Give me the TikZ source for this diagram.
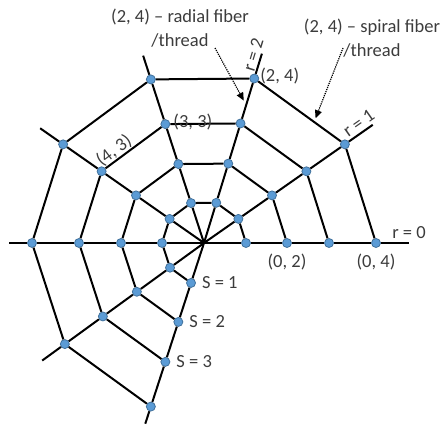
\documentclass[tikz,border=0pt]{standalone}
\usepackage{fontspec}
\setmainfont{Carlito}
\usetikzlibrary{arrows.meta,positioning,calc}

\definecolor{knotfill}{HTML}{5B9BD5}
\definecolor{knotedge}{HTML}{41719C}
\definecolor{inkgray}{HTML}{3C3C3C}

\begin{document}
\begin{tikzpicture}[
    x=1pt, y=1pt,
    every node/.style={font=\fontsize{18.5}{23.3}\selectfont, text=inkgray, inner sep=1pt},
    knot/.style={circle, draw=knotedge, fill=knotfill, line width=0.8pt, minimum size=9pt, inner sep=0pt},
    fiber/.style={line width=2pt, line join=round},
    pointer/.style={-{Triangle[length=8pt,width=7pt]}, densely dotted, line width=1.2pt, shorten >=5pt}
]
\useasboundingbox (0,0) rectangle (444,427);
\coordinate (hub) at (204,184);

% knots: radial \i, ring \r
\foreach \i/\ang in {0/0,1/35,2/73,3/108,4/145,5/180,6/216,7/252}
  \foreach \r/\rad in {1/42,2/83,3/125,4/172}
    \node[knot] (n-\i-\r) at ([shift={(\ang:\rad)}]hub) {};
\foreach \i/\ang/\len in {0/0/205,1/35/206,2/73/198,3/108/197,4/145/200,5/180/195,6/216/200,7/252/190}
  \coordinate (e-\i) at ([shift={(\ang:\len)}]hub);

% radial fibers
\foreach \i in {0,...,7}
  \draw[fiber] (hub) -- (n-\i-1) -- (n-\i-2) -- (n-\i-3) -- (n-\i-4) -- (e-\i);
% spiral fibers
\foreach \r in {1,...,4}
  \draw[fiber] (n-0-\r) -- (n-1-\r) -- (n-2-\r) -- (n-3-\r) -- (n-4-\r) -- (n-5-\r) -- (n-6-\r) -- (n-7-\r);

% labels
\node[right=0pt of n-2-4, yshift=2pt] (lab24) {(2, 4)};
\node[right=2pt of n-3-3, yshift=2.5pt] (lab33) {(3, 3)};
\path (n-4-3) -- (n-3-3) node[pos=0.25, above, sloped] (lab43) {(4, 3)};
\node[below=5pt of n-0-2] (lab02) {(0, 2)};
\node[below=5pt of n-0-4] (lab04) {(0, 4)};
\node[right=5pt of n-7-1] (s1) {S = 1};
\node[right=5pt of n-7-2] (s2) {S = 2};
\node[right=5pt of n-7-3] (s3) {S = 3};
\node[above=3pt of e-0] (r0) {r = 0};
\path (n-1-4) -- (e-1) node[pos=0.64, above, sloped, outer sep=2.5pt] (r1) {r = 1};
\path (n-2-4) -- (e-2) node[pos=0.83, above, sloped, outer sep=1pt] (r2) {r = 2};

% callouts
\node[align=center] (radtitle) at (180,399) {(2, 4) -- radial fiber\\/thread};
\node[align=center] (spititle) at (372,389) {(2, 4) -- spiral fiber\\/thread};
\coordinate (radpt) at ($(n-2-3)!0.41!(n-2-4)$);
\coordinate (spipt) at ($(n-2-4)!0.66!(n-1-4)$);
\draw[pointer] ([xshift=35pt]radtitle.south) -- (radpt);
\draw[pointer, shorten >=4pt] ([shift={(-29pt,10pt)}]spititle.south) -- (spipt);
\end{tikzpicture}
\end{document}
